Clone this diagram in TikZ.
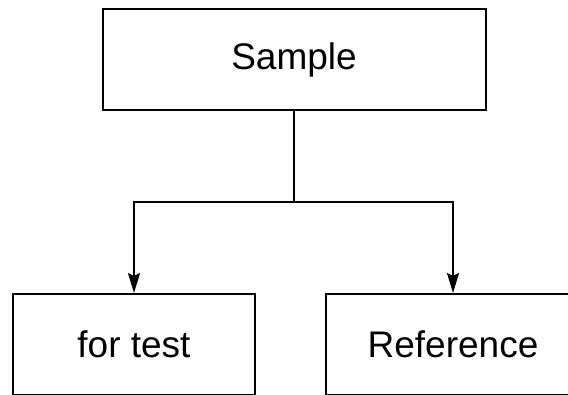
\documentclass[tikz,border=0pt]{standalone}
\usepackage{fontspec}
\setmainfont{Liberation Sans}
\usetikzlibrary{arrows.meta,positioning}

\begin{document}
\begin{tikzpicture}[
  x=1pt, y=1pt,
  box/.style={rectangle, draw=black, line width=2pt,
              minimum height=101pt, text centered,
              font=\fontsize{37}{42}\selectfont},
  arr/.style={-{Stealth[length=20pt, width=12pt, inset=3pt]}, line width=2pt}
]
\useasboundingbox (0,0) rectangle (568,-394);
\clip (0,0) rectangle (568,-394);

\node[box, minimum width=383pt] (sample)    at (294,-59.5) {Sample};
\node[box, minimum width=242pt] (fortest)   at (134,-344.5)  {for test};
\node[box, minimum width=254pt] (reference) at (453,-344.5)  {Reference};
\coordinate (split) at (294,-202);

\draw[line width=2pt] (sample.south) -- (split);
\draw[arr] (split) -| (fortest.north);
\draw[arr] (split) -| (reference.north);
\end{tikzpicture}
\end{document}
